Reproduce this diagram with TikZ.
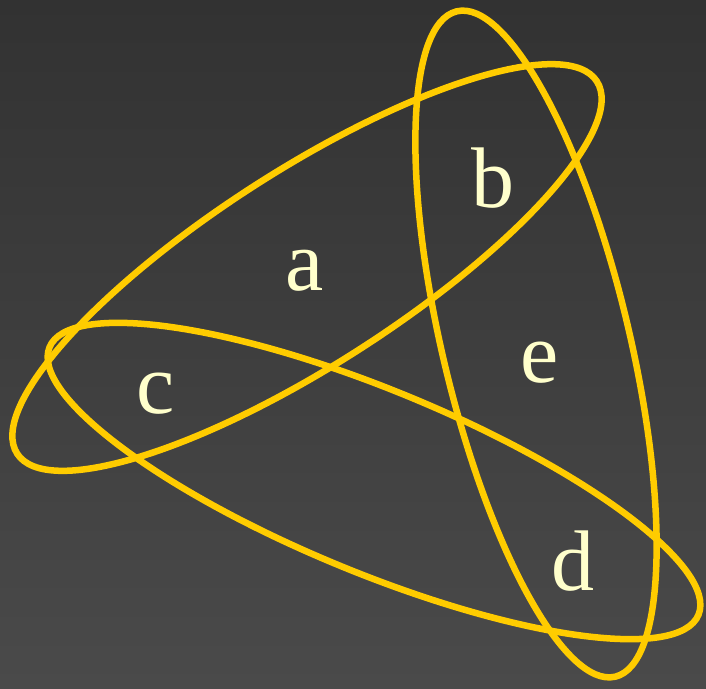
\documentclass[tikz,border=0pt]{standalone}
\usepackage{fontspec}
\setmainfont{Liberation Serif}
\definecolor{ring}{HTML}{FFCC00}
\definecolor{lbl}{HTML}{FFFFCC}
\definecolor{bgtop}{HTML}{323232}
\definecolor{bgbot}{HTML}{4A4A4A}
\begin{document}
\begin{tikzpicture}[x=1pt,y=1pt,
  ring/.style={draw=ring,line width=6.5pt},
  lab/.style={text=lbl,anchor=base,inner sep=0pt,font=\fontsize{86}{90}\selectfont}]
\shade[top color=bgtop,bottom color=bgbot] (0,0) rectangle (706,-688);
\useasboundingbox (0,0) rectangle (706,-688);
\draw[ring,rotate around={32.7:(307,-267.5)}] (307,-267.5) ellipse [x radius=344.5,y radius=97.2];
\draw[ring,rotate around={13.4:(536,-344)}] (536,-344) ellipse [x radius=93.5,y radius=342];
\draw[ring,rotate around={-22.4:(374,-481)}] (374,-481) ellipse [x radius=351,y radius=91.3];
\node[lab] (a) at (305,-290) {a};
\node[lab] (b) at (493,-207) {b};
\node[lab] (c) at (156,-413) {c};
\node[lab] (d) at (573,-590) {d};
\node[lab] (e) at (540,-382) {e};
\end{tikzpicture}
\end{document}
